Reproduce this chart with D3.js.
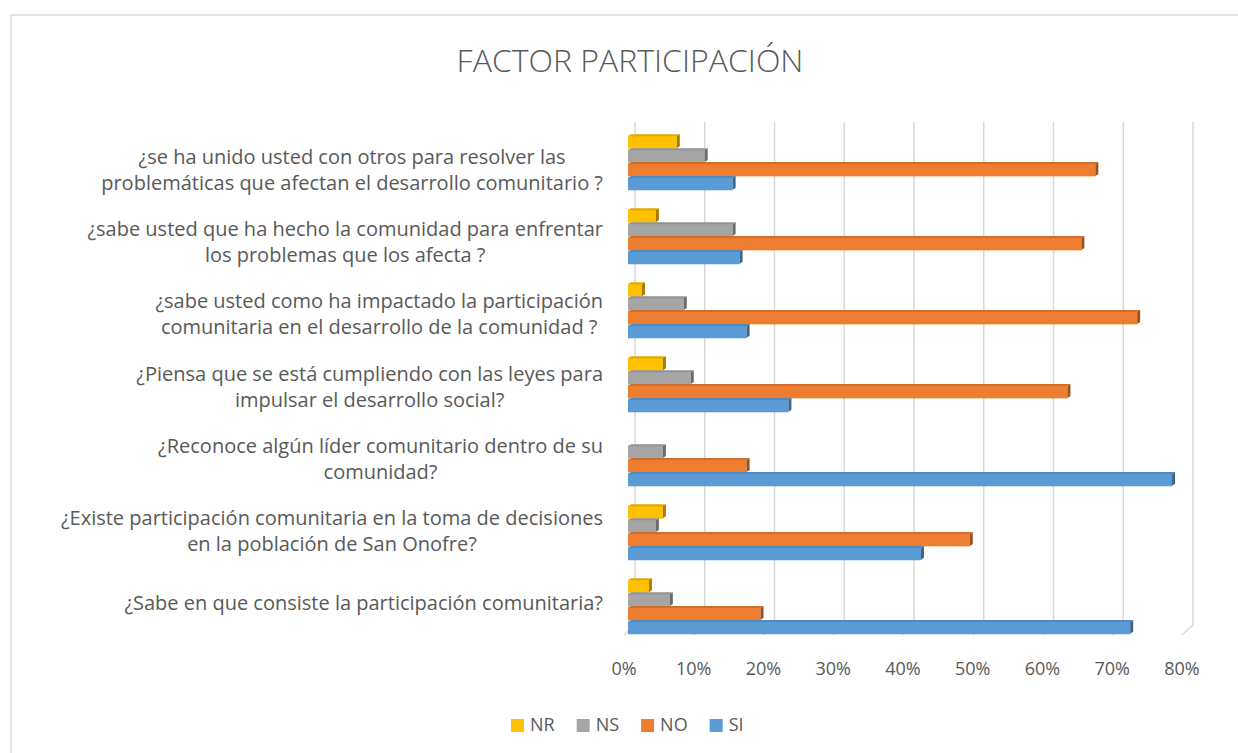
<!DOCTYPE html>
<html lang="es">
<head>
<meta charset="UTF-8">
<title>Factor Participación</title>
<script src="https://cdnjs.cloudflare.com/ajax/libs/d3/7.8.5/d3.min.js"></script>
<style>
  body { margin: 0; background: #fff; }
  svg text { font-family: "Open Sans", "Liberation Sans", sans-serif; fill: #595959; }
</style>
</head>
<body>
<svg id="chart" width="1238" height="753"></svg>
<script>
// preguntas, de arriba hacia abajo
var categories = [
  "¿se ha unido usted con otros para resolver las\nproblemáticas que afectan el desarrollo comunitario ?",
  "¿sabe usted que ha hecho  la comunidad para enfrentar\nlos problemas que los afecta ?",
  "¿sabe usted como ha impactado  la participación\ncomunitaria en el desarrollo de la comunidad ?",
  "¿Piensa que se está cumpliendo con las leyes para\nimpulsar el desarrollo social?",
  "¿Reconoce algún líder comunitario dentro de su\ncomunidad?",
  "¿Existe participación comunitaria en la toma de decisiones\nen la población de San Onofre?",
  "¿Sabe en  que consiste la participación comunitaria?"
];
var seriesNames = ["NR", "NS", "NO", "SI"];
var nrValues = [0.07, 0.04, 0.02, 0.05, 0.00, 0.05, 0.03];
var nsValues = [0.11, 0.15, 0.08, 0.09, 0.05, 0.04, 0.06];
var noValues = [0.67, 0.65, 0.73, 0.63, 0.17, 0.49, 0.19];
var siValues = [0.15, 0.16, 0.17, 0.23, 0.78, 0.42, 0.72];
var xTicks = [0, 0.1, 0.2, 0.3, 0.4, 0.5, 0.6, 0.7, 0.8];
var colors = { NR: "#FFC000", NS: "#A5A5A5", NO: "#ED7D31", SI: "#5B9BD5" };

var valuesBySeries = { NR: nrValues, NS: nsValues, NO: noValues, SI: siValues };

var svg = d3.select("#chart");

// marco del grafico
svg.append("rect")
  .attr("x", 11).attr("y", 15)
  .attr("width", 1300).attr("height", 800)
  .attr("fill", "#fff")
  .attr("stroke", "#d9d9d9").attr("stroke-width", 1.5);

svg.append("text")
  .attr("x", 630).attr("y", 72)
  .attr("text-anchor", "middle")
  .style("font-size", "32px")
  .style("font-weight", 300)
  .text("FACTOR PARTICIPACIÓN");

var x = d3.scaleLinear().domain([0, 0.8]).range([628, 1186]);
var y = d3.scaleBand().domain(categories).range([125, 643])
  .paddingInner(0.25).paddingOuter(0.125);
var ySub = d3.scaleBand().domain(seriesNames).range([0, y.bandwidth()]);
var yLabel = d3.scalePoint().domain(categories).range([170, 603]);

var dx = 3, dy = 2;      // profundidad 3D
var backX = 7, frontX = -4;
var wallTop = 122, floorBack = 625, floorFront = 635;

// pared de fondo: lineas de cuadricula y piso
var grid = svg.append("g");
grid.selectAll("line.v").data(xTicks).enter().append("line")
  .attr("class", "v")
  .attr("x1", d => x(d) + backX).attr("x2", d => x(d) + backX)
  .attr("y1", wallTop).attr("y2", floorBack)
  .attr("stroke", "#d9d9d9").attr("stroke-width", 1.5);
grid.selectAll("line.f").data(xTicks).enter().append("line")
  .attr("class", "f")
  .attr("x1", d => x(d) + backX).attr("x2", d => x(d) + frontX)
  .attr("y1", floorBack).attr("y2", floorFront)
  .attr("stroke", "#d9d9d9").attr("stroke-width", 1.5);

grid.selectAll("text").data(xTicks).enter().append("text")
  .attr("x", d => x(d) + frontX)
  .attr("y", 675)
  .attr("text-anchor", "middle")
  .style("font-size", "18px")
  .text(d3.format(".0%"));

// barras
var rows = [];
categories.forEach(function (c, i) {
  seriesNames.forEach(function (s) {
    rows.push({ cat: c, key: s, value: valuesBySeries[s][i] });
  });
});

var bars = svg.append("g").selectAll("g").data(rows.filter(d => d.value > 0)).enter().append("g");
bars.each(function (d) {
  var g = d3.select(this);
  var x0 = x(0), x1 = x(d.value);
  var top = y(d.cat) + ySub(d.key);
  var h = ySub.bandwidth();
  var c = d3.color(colors[d.key]);
  g.append("rect")
    .attr("x", x0).attr("y", top + dy - 0.5)
    .attr("width", x1 - x0).attr("height", h - dy + 1)
    .attr("fill", c);
  g.append("polygon")
    .attr("points", [[x0, top + dy], [x1, top + dy], [x1 + dx, top], [x0 + dx, top]].join(" "))
    .attr("fill", c.darker(0.35));
  g.append("polygon")
    .attr("points", [[x1, top + dy], [x1 + dx, top], [x1 + dx, top + h - dy], [x1, top + h]].join(" "))
    .attr("fill", c.darker(1.2));
});

// etiquetas de categorias (centradas, bloque alineado a la derecha)
var labelRight = 603, lineH = 26;
var labels = svg.append("g").selectAll("g").data(categories).enter().append("g");
labels.each(function (c) {
  var g = d3.select(this);
  var lines = c.split("\n");
  var texts = lines.map(function (t, j) {
    return g.append("text")
      .attr("y", yLabel(c) + (j - (lines.length - 1) / 2) * lineH)
      .attr("dy", "0.35em")
      .attr("text-anchor", "middle")
      .style("font-size", "20px")
      .text(t);
  });
  var w = d3.max(texts, t => t.node().getComputedTextLength());
  texts.forEach(t => t.attr("x", labelRight - w / 2));
});

// leyenda
var legend = svg.append("g");
var lx = 511;
seriesNames.forEach(function (s) {
  legend.append("rect")
    .attr("x", lx).attr("y", 719)
    .attr("width", 13).attr("height", 13)
    .attr("fill", colors[s]);
  var t = legend.append("text")
    .attr("x", lx + 19).attr("y", 725)
    .attr("dy", "0.35em")
    .style("font-size", "18px")
    .text(s);
  lx += 19 + t.node().getComputedTextLength() + 22;
});
</script>
</body>
</html>
